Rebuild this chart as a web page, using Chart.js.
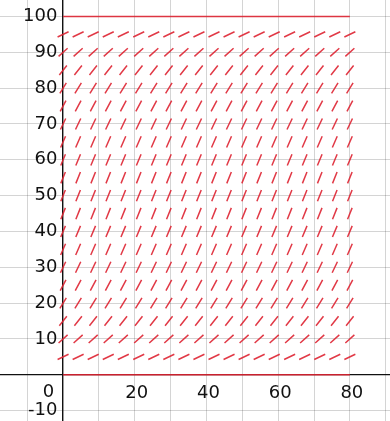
<!DOCTYPE html>
<html>
<head>
<meta charset="utf-8">
<script src="https://cdn.jsdelivr.net/npm/chart.js@4"></script>
<style>
    html, body { margin: 0; padding: 0; background: #fff; }
    #wrap { width: 390px; height: 421px; position: relative; }
</style>
</head>
<body>
<div id="wrap"><canvas id="slopeField"></canvas></div>
<script>
    // grid of the direction field (x columns, y rows)
    var colX = [0, 4.2, 8.4, 12.6, 16.8, 21.1, 25.3, 29.5, 33.7, 37.9, 42.1, 46.3, 50.5, 54.7, 58.9, 63.2, 67.4, 71.6, 75.8, 80];
    var rowY = [5, 10, 15, 20, 25, 30, 35, 40, 45, 50, 55, 60, 65, 70, 75, 80, 85, 90, 95];
    // slope of the little segments on each row
    var rowSlope = [0.48, 0.9, 1.28, 1.6, 1.88, 2.1, 2.28, 2.4, 2.48, 2.5, 2.48, 2.4, 2.28, 2.1, 1.88, 1.6, 1.28, 0.9, 0.48];
    // the two flat solutions
    var flatY = [0, 100];
    var flatX = [0, 80];

    var segLen = 3.4; // length of each segment in axis units

    var fieldPts = [];
    for (var r = 0; r < rowY.length; r++) {
        var m = rowSlope[r];
        var dx = (segLen / 2) / Math.sqrt(1 + m * m);
        var dy = m * dx;
        for (var c = 0; c < colX.length; c++) {
            fieldPts.push({x: colX[c] - dx, y: rowY[r] - dy});
            fieldPts.push({x: colX[c] + dx, y: rowY[r] + dy});
            fieldPts.push({x: colX[c], y: null});
        }
    }

    var red = "rgba(222, 35, 50, 0.9)";
    var flatSets = flatY.map(function (yv) {
        return {
            data: [{x: flatX[0], y: yv}, {x: flatX[1], y: yv}],
            borderColor: red,
            borderWidth: 1.5,
            pointRadius: 0
        };
    });

    var tickFont = {family: "'DejaVu Sans'", size: 18};

    // origin "0" sits left of the y axis, on the x label row
    var originLabel = {
        id: 'originLabel',
        afterDraw: function (chart) {
            var c = chart.ctx;
            var xs = chart.scales.x, ys = chart.scales.y;
            c.save();
            c.font = "18px 'DejaVu Sans'";
            c.fillStyle = "#111";
            c.textAlign = "right";
            c.textBaseline = "middle";
            c.fillText("0", xs.getPixelForValue(0) - 9, ys.getPixelForValue(0) + 18);
            c.restore();
        }
    };

    var ctx = document.getElementById("slopeField");
    var myChart = new Chart(ctx, {
        type: 'line',
        data: {
            datasets: [{
                data: fieldPts,
                borderColor: red,
                borderWidth: 1.5,
                pointRadius: 0,
                spanGaps: false
            }].concat(flatSets)
        },
        options: {
            responsive: true,
            maintainAspectRatio: false,
            animation: false,
            layout: {padding: 0},
            plugins: {
                legend: {display: false},
                tooltip: {enabled: false}
            },
            scales: {
                x: {
                    type: 'linear',
                    position: {y: 0},
                    min: -17.6,
                    max: 91.2,
                    grid: {color: "rgba(0,0,0,0.17)", drawTicks: false},
                    border: {color: "#111", width: 1.3},
                    ticks: {
                        stepSize: 10,
                        includeBounds: false,
                        autoSkip: false,
                        maxRotation: 0,
                        padding: 8,
                        labelOffset: 2,
                        color: "#111",
                        font: tickFont,
                        callback: function (v) { return (v > 0 && v % 20 === 0) ? String(v) : ''; }
                    },
                    afterFit: function (s) { s.paddingLeft = 0; s.paddingRight = 0; }
                },
                y: {
                    type: 'linear',
                    position: {x: 0},
                    min: -12.9,
                    max: 104.6,
                    grid: {color: "rgba(0,0,0,0.17)", drawTicks: false},
                    border: {color: "#111", width: 1.3},
                    ticks: {
                        stepSize: 10,
                        includeBounds: false,
                        autoSkip: false,
                        padding: 6,
                        color: "#111",
                        font: tickFont,
                        // trailing space keeps the labels off the axis line
                        callback: function (v) { return v !== 0 ? String(v) + ' ' : ''; }
                    },
                    afterFit: function (s) { s.paddingTop = 0; s.paddingBottom = 0; }
                }
            }
        },
        plugins: [originLabel]
    });
</script>
</body>
</html>
